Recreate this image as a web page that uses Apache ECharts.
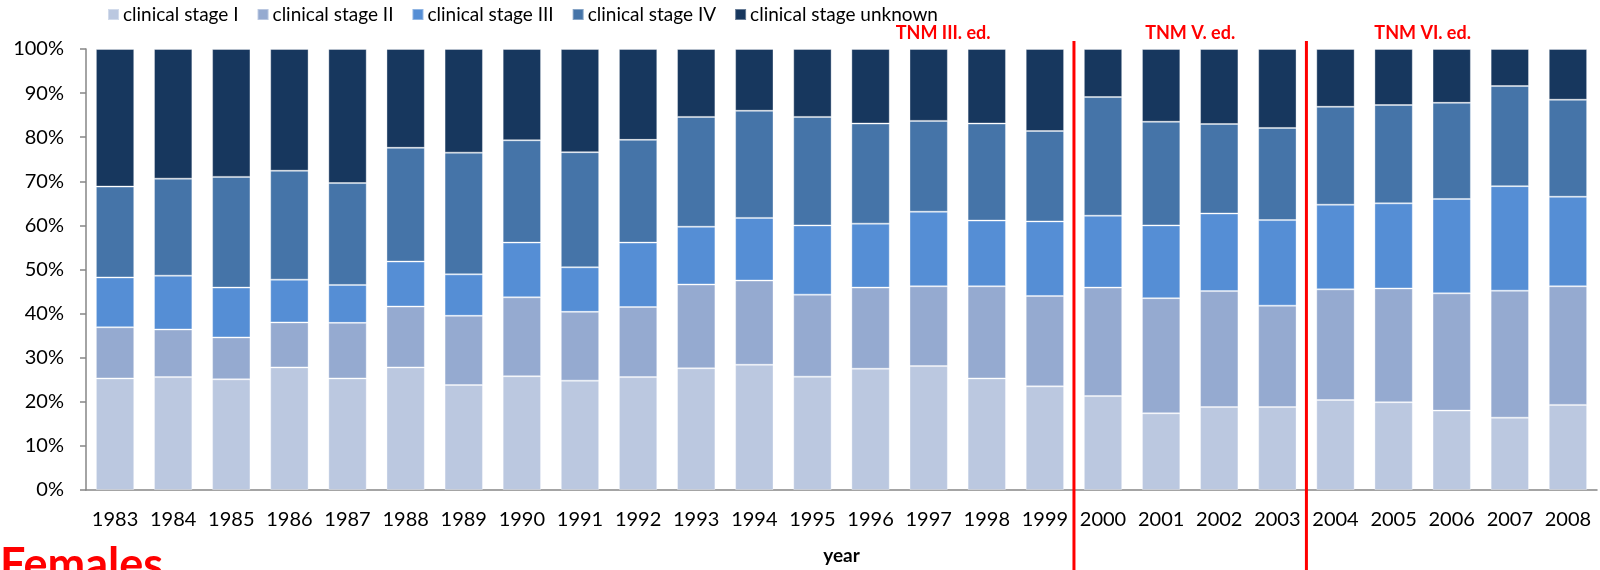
<!DOCTYPE html>
<html>
<head>
<meta charset="utf-8">
<script src="https://cdn.jsdelivr.net/npm/echarts@6/dist/echarts.min.js"></script>
<style>
  html, body { margin: 0; padding: 0; background: #fff; }
  #chart { width: 1600px; height: 570px; }
</style>
</head>
<body>
<div id="chart"></div>
<script>
// share of each clinical stage per year (%)
const years = ['1983', '1984', '1985', '1986', '1987', '1988', '1989', '1990', '1991', '1992', '1993', '1994', '1995',
  '1996', '1997', '1998', '1999', '2000', '2001', '2002', '2003', '2004', '2005', '2006', '2007', '2008']
const stageNames = ['clinical stage I', 'clinical stage II', 'clinical stage III', 'clinical stage IV', 'clinical stage unknown']
const stageI = [25.3, 25.6, 25.1, 27.8, 25.3, 27.8, 23.8, 25.8, 24.8, 25.6, 27.6, 28.4, 25.7,
  27.5, 28.1, 25.3, 23.5, 21.3, 17.4, 18.8, 18.8, 20.4, 19.9, 18.0, 16.4, 19.3]
const stageII = [11.6, 10.8, 9.5, 10.2, 12.6, 13.8, 15.7, 17.9, 15.6, 15.9, 19.0, 19.1, 18.6,
  18.4, 18.1, 20.9, 20.5, 24.6, 26.1, 26.3, 23.0, 25.1, 25.8, 26.6, 28.8, 26.9]
const stageIII = [11.3, 12.2, 11.3, 9.7, 8.6, 10.2, 9.4, 12.4, 10.1, 14.6, 13.1, 14.2, 15.7,
  14.5, 16.9, 14.9, 16.9, 16.3, 16.5, 17.6, 19.4, 19.2, 19.3, 21.4, 23.7, 20.3]
const stageIV = [20.6, 22.0, 25.1, 24.7, 23.1, 25.8, 27.6, 23.2, 26.1, 23.3, 24.9, 24.3, 24.6,
  22.7, 20.6, 22.0, 20.5, 26.9, 23.5, 20.3, 20.9, 22.2, 22.3, 21.8, 22.7, 22.0]
const stageUnknown = [31.2, 29.4, 29.0, 27.6, 30.4, 22.4, 23.5, 20.7, 23.4, 20.6, 15.4, 14.0, 15.4,
  16.9, 16.3, 16.9, 18.6, 10.9, 16.5, 17.0, 17.9, 13.1, 12.7, 12.2, 8.4, 11.5]
const stageValues = [stageI, stageII, stageIII, stageIV, stageUnknown]
const stageColors = ['#bbc8e0', '#95aad0', '#558ed5', '#4574a8', '#17375e']

// TNM edition changes: red line after these years, labels over these positions
const tnmBreakYears = ['1999', '2003']
const tnmLabels = ['TNM III. ed.', 'TNM V. ed.', 'TNM VI. ed.']
const tnmLabelAt = [14.25, 18.5, 22.5]  // category index units

const fontFamily = 'Lato, "Open Sans", sans-serif'

const chart = echarts.init(document.getElementById('chart'))

let series = stageNames.map((name, i) => {
  return {
    name: name,
    type: 'bar',
    stack: 'total',
    barCategoryGap: '34%',
    data: stageValues[i],
    itemStyle: {
      color: stageColors[i],
      borderColor: 'rgba(255,255,255,0.35)',
      borderWidth: 1
    }
  }
})

series.push({
  type: 'custom',
  clip: false,
  z: 10,
  silent: true,
  data: tnmBreakYears.map(y => [y, 100]),
  renderItem(params, api) {
    const p = api.coord([api.value(0), 100])
    const w = api.size([1, 0])[0]
    const x = p[0] + w / 2
    return {
      type: 'line',
      shape: { x1: x, y1: p[1] - 8, x2: x, y2: api.getHeight() },
      style: { stroke: '#ff0000', lineWidth: 3 }
    }
  }
})

series.push({
  type: 'custom',
  clip: false,
  z: 10,
  silent: true,
  data: tnmLabelAt.map(v => [years[Math.floor(v)], 100]),
  renderItem(params, api) {
    const pos = tnmLabelAt[params.dataIndex]
    const p = api.coord([api.value(0), 100])
    const w = api.size([1, 0])[0]
    const x = p[0] + (pos - Math.floor(pos)) * w
    return {
      type: 'text',
      x: x,
      y: p[1] - 16,
      style: {
        text: tnmLabels[params.dataIndex],
        fill: '#ff0000',
        font: 'bold 18px ' + fontFamily,
        align: 'center',
        verticalAlign: 'middle'
      }
    }
  }
})

let option = {
  animation: false,
  textStyle: { fontFamily: fontFamily },
  legend: {
    data: stageNames,
    left: 102,
    top: 0,
    itemWidth: 11,
    itemHeight: 11,
    itemGap: 18,
    icon: 'rect',
    textStyle: { fontSize: 19, color: '#000', fontFamily: fontFamily, padding: [0, 0, 0, -1] }
  },
  grid: {
    left: 86,
    right: 3,
    top: 49,
    bottom: 80,
    containLabel: false
  },
  xAxis: {
    type: 'category',
    data: years,
    name: 'year',
    nameLocation: 'middle',
    nameGap: 56,
    nameTextStyle: { fontSize: 19, fontWeight: 'bold', color: '#000' },
    axisLine: { lineStyle: { color: '#868686', width: 1.5 } },
    axisTick: { length: 8, lineStyle: { color: '#868686', width: 1.5 } },
    axisLabel: { interval: 0, fontSize: 20, color: '#000', margin: 20 }
  },
  yAxis: {
    type: 'value',
    min: 0,
    max: 100,
    interval: 10,
    axisLine: { show: true, lineStyle: { color: '#868686', width: 1.5 } },
    axisTick: { show: true, length: 6, lineStyle: { color: '#868686', width: 1.5 } },
    splitLine: { show: false },
    axisLabel: { formatter: '{value}%', fontSize: 20, color: '#000', margin: 22 }
  },
  graphic: [
    {
      type: 'text',
      left: 0,
      top: 543,
      style: { text: 'Females', fill: '#ff0000', font: 'bold 45px ' + fontFamily }
    }
  ],
  series: series
}

chart.setOption(option)
</script>
</body>
</html>
